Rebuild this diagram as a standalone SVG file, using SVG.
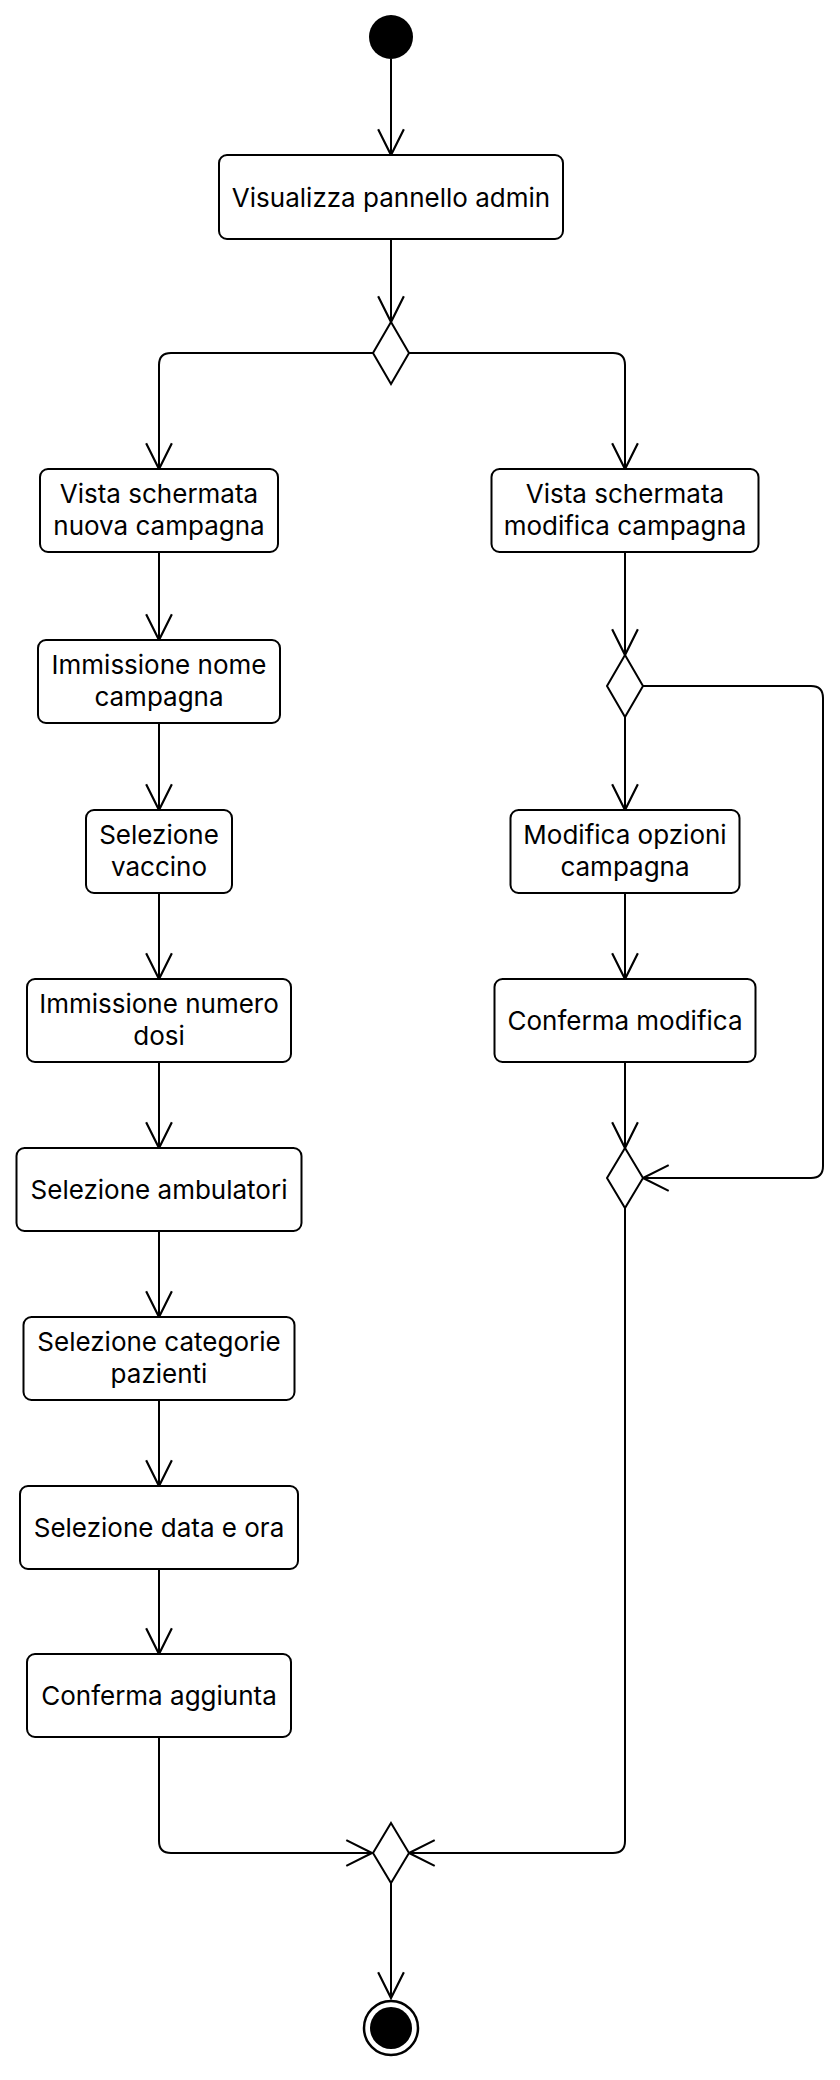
<svg xmlns="http://www.w3.org/2000/svg" width="840" height="2080" viewBox="0 0 840 2080">
<style>
.box{fill:#fff;stroke:#000;stroke-width:2}
.dia{fill:#fff;stroke:#000;stroke-width:2}
.lbl{font-family:Inter,"Noto Sans",sans-serif;font-size:26px;fill:#000;text-anchor:middle}
.edge{fill:none;stroke:#000;stroke-width:2}
</style>
<defs>
<marker id="arr" markerUnits="userSpaceOnUse" orient="auto" refX="0" refY="0" markerWidth="30" markerHeight="30" viewBox="-26 -14 28 28" overflow="visible">
<path d="M-24,-12 L0,0 L-24,12" fill="none" stroke="#000" stroke-width="2"/>
</marker>
</defs>
<rect width="840" height="2080" fill="#fff"/>
<g id="connectors">
<path class="edge" d="M391,59 V155" marker-end="url(#arr)"/>
<path class="edge" d="M391,239 V322" marker-end="url(#arr)"/>
<path class="edge" d="M373,353 H171 Q159,353 159,365 V469" marker-end="url(#arr)"/>
<path class="edge" d="M409,353 H613 Q625,353 625,365 V469" marker-end="url(#arr)"/>
<path class="edge" d="M159,552 V640" marker-end="url(#arr)"/>
<path class="edge" d="M159,723 V810" marker-end="url(#arr)"/>
<path class="edge" d="M159,893 V979" marker-end="url(#arr)"/>
<path class="edge" d="M159,1062 V1148" marker-end="url(#arr)"/>
<path class="edge" d="M159,1231 V1317" marker-end="url(#arr)"/>
<path class="edge" d="M159,1400 V1486" marker-end="url(#arr)"/>
<path class="edge" d="M159,1569 V1654" marker-end="url(#arr)"/>
<path class="edge" d="M159,1737 V1841 Q159,1853 171,1853 H372" marker-end="url(#arr)"/>
<path class="edge" d="M625,552 V655" marker-end="url(#arr)"/>
<path class="edge" d="M625,717 V810" marker-end="url(#arr)"/>
<path class="edge" d="M643,686 H811 Q823,686 823,698 V1166 Q823,1178 811,1178 H643" marker-end="url(#arr)"/>
<path class="edge" d="M625,893 V979" marker-end="url(#arr)"/>
<path class="edge" d="M625,1062 V1148" marker-end="url(#arr)"/>
<path class="edge" d="M625,1208 V1841 Q625,1853 613,1853 H409" marker-end="url(#arr)"/>
<path class="edge" d="M391,1883 V1998" marker-end="url(#arr)"/>
</g>
<g id="start"><circle cx="391" cy="37" r="22" fill="#000"/></g>
<g id="n_visualizza"><rect class="box" x="219" y="155" width="344" height="84" rx="8"/><text class="lbl" x="391" y="206.5">Visualizza pannello admin</text></g>
<g id="d1"><polygon class="dia" points="391,322 409,353 391,384 373,353"/></g>
<g id="n_vista_nuova"><rect class="box" x="40" y="469" width="238" height="83" rx="8"/><text class="lbl" x="159" y="503">Vista schermata</text><text class="lbl" x="159" y="535">nuova campagna</text></g>
<g id="n_vista_modifica"><rect class="box" x="491.5" y="469" width="267" height="83" rx="8"/><text class="lbl" x="625" y="503">Vista schermata</text><text class="lbl" x="625" y="535">modifica campagna</text></g>
<g id="n_nome"><rect class="box" x="38" y="640" width="242" height="83" rx="8"/><text class="lbl" x="159" y="674">Immissione nome</text><text class="lbl" x="159" y="706">campagna</text></g>
<g id="d2"><polygon class="dia" points="625,655 643,686 625,717 607,686"/></g>
<g id="n_vaccino"><rect class="box" x="86" y="810" width="146" height="83" rx="8"/><text class="lbl" x="159" y="844">Selezione</text><text class="lbl" x="159" y="876">vaccino</text></g>
<g id="n_modifica_opzioni"><rect class="box" x="510.5" y="810" width="229" height="83" rx="8"/><text class="lbl" x="625" y="844">Modifica opzioni</text><text class="lbl" x="625" y="876">campagna</text></g>
<g id="n_dosi"><rect class="box" x="27" y="979" width="264" height="83" rx="8"/><text class="lbl" x="159" y="1013">Immissione numero</text><text class="lbl" x="159" y="1045">dosi</text></g>
<g id="n_conferma_modifica"><rect class="box" x="494.5" y="979" width="261" height="83" rx="8"/><text class="lbl" x="625" y="1030">Conferma modifica</text></g>
<g id="n_ambulatori"><rect class="box" x="16.5" y="1148" width="285" height="83" rx="8"/><text class="lbl" x="159" y="1199">Selezione ambulatori</text></g>
<g id="d3"><polygon class="dia" points="625,1148 643,1178 625,1208 607,1178"/></g>
<g id="n_categorie"><rect class="box" x="23.5" y="1317" width="271" height="83" rx="8"/><text class="lbl" x="159" y="1351">Selezione categorie</text><text class="lbl" x="159" y="1383">pazienti</text></g>
<g id="n_data"><rect class="box" x="20" y="1486" width="278" height="83" rx="8"/><text class="lbl" x="159" y="1537">Selezione data e ora</text></g>
<g id="n_conferma_aggiunta"><rect class="box" x="27" y="1654" width="264" height="83" rx="8"/><text class="lbl" x="159" y="1705">Conferma aggiunta</text></g>
<g id="d4"><polygon class="dia" points="391,1823 409,1853 391,1883 373,1853"/></g>
<g id="end"><circle cx="391" cy="2028" r="27" fill="#fff" stroke="#000" stroke-width="2.5"/><circle cx="391" cy="2028" r="21" fill="#000"/></g>
</svg>
